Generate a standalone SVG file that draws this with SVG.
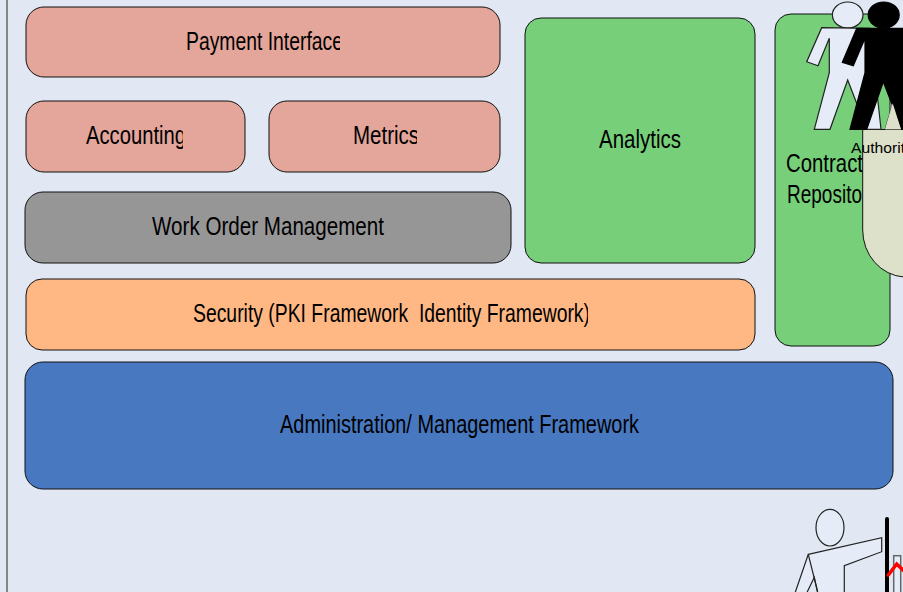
<svg xmlns="http://www.w3.org/2000/svg" width="903" height="592" viewBox="0 0 903 592">
<style>
.box{stroke:#111;stroke-width:1}
.red{fill:#e4a59a}.green{fill:#77cf7a}
.t{font-family:"Liberation Sans",Arial,sans-serif;font-size:26px;fill:#000}
.fig{stroke:#222;stroke-width:1.2;stroke-linejoin:miter}
.light{fill:#e6ecf7}
.dark{fill:#000;stroke:#000}
</style>
<defs>
<clipPath id="c1"><rect x="180" y="20" width="160" height="45"/></clipPath>
<clipPath id="c2"><rect x="80" y="115" width="103" height="45"/></clipPath>
<clipPath id="c3"><rect x="345" y="115" width="72" height="45"/></clipPath>
<clipPath id="c4"><rect x="185" y="295" width="403" height="45"/></clipPath>
</defs>
<rect width="903" height="592" fill="#e1e8f3"/>
<line x1="7" y1="0" x2="7" y2="592" stroke="#666" stroke-width="1.5"/>
<g id="connectors"/>
<g id="payment-interface"><rect class="box red" x="26" y="7" width="474" height="70" rx="18"/><text class="t" x="186" y="50" textLength="157" lengthAdjust="spacingAndGlyphs" clip-path="url(#c1)">Payment Interface</text></g>
<g id="accounting"><rect class="box red" x="26" y="101" width="219" height="71" rx="18"/><text class="t" x="86" y="144" textLength="100" lengthAdjust="spacingAndGlyphs" clip-path="url(#c2)">Accounting</text></g>
<g id="metrics"><rect class="box red" x="269" y="101" width="231" height="71" rx="18"/><text class="t" x="353" y="144" textLength="66" lengthAdjust="spacingAndGlyphs" clip-path="url(#c3)">Metrics</text></g>
<g id="work-order"><rect class="box" fill="#969696" x="25" y="192" width="486" height="71" rx="18"/><text class="t" x="152" y="235" textLength="232" lengthAdjust="spacingAndGlyphs">Work Order Management</text></g>
<g id="analytics"><rect class="box green" x="525" y="18" width="230" height="245" rx="16"/><text class="t" x="599" y="148" textLength="82" lengthAdjust="spacingAndGlyphs">Analytics</text></g>
<g id="security"><rect class="box" fill="#ffb884" x="26" y="279" width="729" height="71" rx="16"/><text class="t" x="193" y="322" textLength="397" lengthAdjust="spacingAndGlyphs" clip-path="url(#c4)" xml:space="preserve">Security (PKI Framework  Identity Framework)</text></g>
<g id="administration"><rect class="box" fill="#4878c0" x="25" y="362" width="868" height="127" rx="18"/><text class="t" x="280" y="433" textLength="359" lengthAdjust="spacingAndGlyphs">Administration/ Management Framework</text></g>
<g id="contract-repository"><rect class="box green" x="775" y="14" width="115" height="332" rx="16"/><text class="t" x="786" y="172" textLength="77" lengthAdjust="spacingAndGlyphs">Contract</text><text class="t" x="787" y="203" textLength="75" lengthAdjust="spacingAndGlyphs">Reposito</text></g>
<g id="authority">
<path d="M904 129.5H862.7V230A44 47 0 0 0 904 277Z" fill="#dee1ca" stroke="#111"/>
<polygon points="892.7,103.3 885,129.3 901.7,129.3" fill="#dee1ca" stroke="#222" stroke-width=".8"/>
<g id="person-white"><ellipse class="fig light" cx="847.7" cy="15" rx="15.3" ry="13"/><polygon class="fig light" points="821.7,27.7 870,28.3 881,129.3 866.7,129.3 847.7,80 830,129.3 814.3,129.3 829.3,72.7 829.3,38.3 818,65.7 806.7,61.7"/></g>
<g id="person-black"><ellipse class="fig dark" cx="883.7" cy="15" rx="15.5" ry="13"/><polygon class="fig dark" points="856.7,28.3 903,28.3 903,129.3 901.7,129.3 883.3,81.7 866.7,129.3 850,129.3 865,72.7 865,38.3 853.3,65.7 842.3,62.3"/></g>
<polygon points="892.7,103.3 885,129.3 901,129.3" fill="#dee1ca"/>
<text x="851" y="153" font-family="'Liberation Sans',Arial,sans-serif" font-size="14" textLength="54" lengthAdjust="spacingAndGlyphs" fill="#000">Authorit</text>
</g>
<g id="person-bottom">
<ellipse class="fig light" cx="830" cy="527.7" rx="14" ry="18.3"/>
<polygon class="fig light" points="808.3,554.3 881.7,537.7 881.7,551.7 844.3,565.7 844.3,593 817.7,593 814.3,577.3 806.7,593 795,593"/>
<line class="fig" x1="808.3" y1="554.3" x2="817.7" y2="592"/>
</g>
<g id="chart">
<line x1="887" y1="519" x2="887" y2="594" stroke="#000" stroke-width="4" stroke-linecap="round"/>
<rect x="893.7" y="555.7" width="7" height="40" fill="#e6ecf7" stroke="#666" stroke-width="1.5"/>
<polyline points="888.3,575 896.7,564 904,571" fill="none" stroke="#f00" stroke-width="3.5" stroke-linecap="round"/>
</g>
</svg>
